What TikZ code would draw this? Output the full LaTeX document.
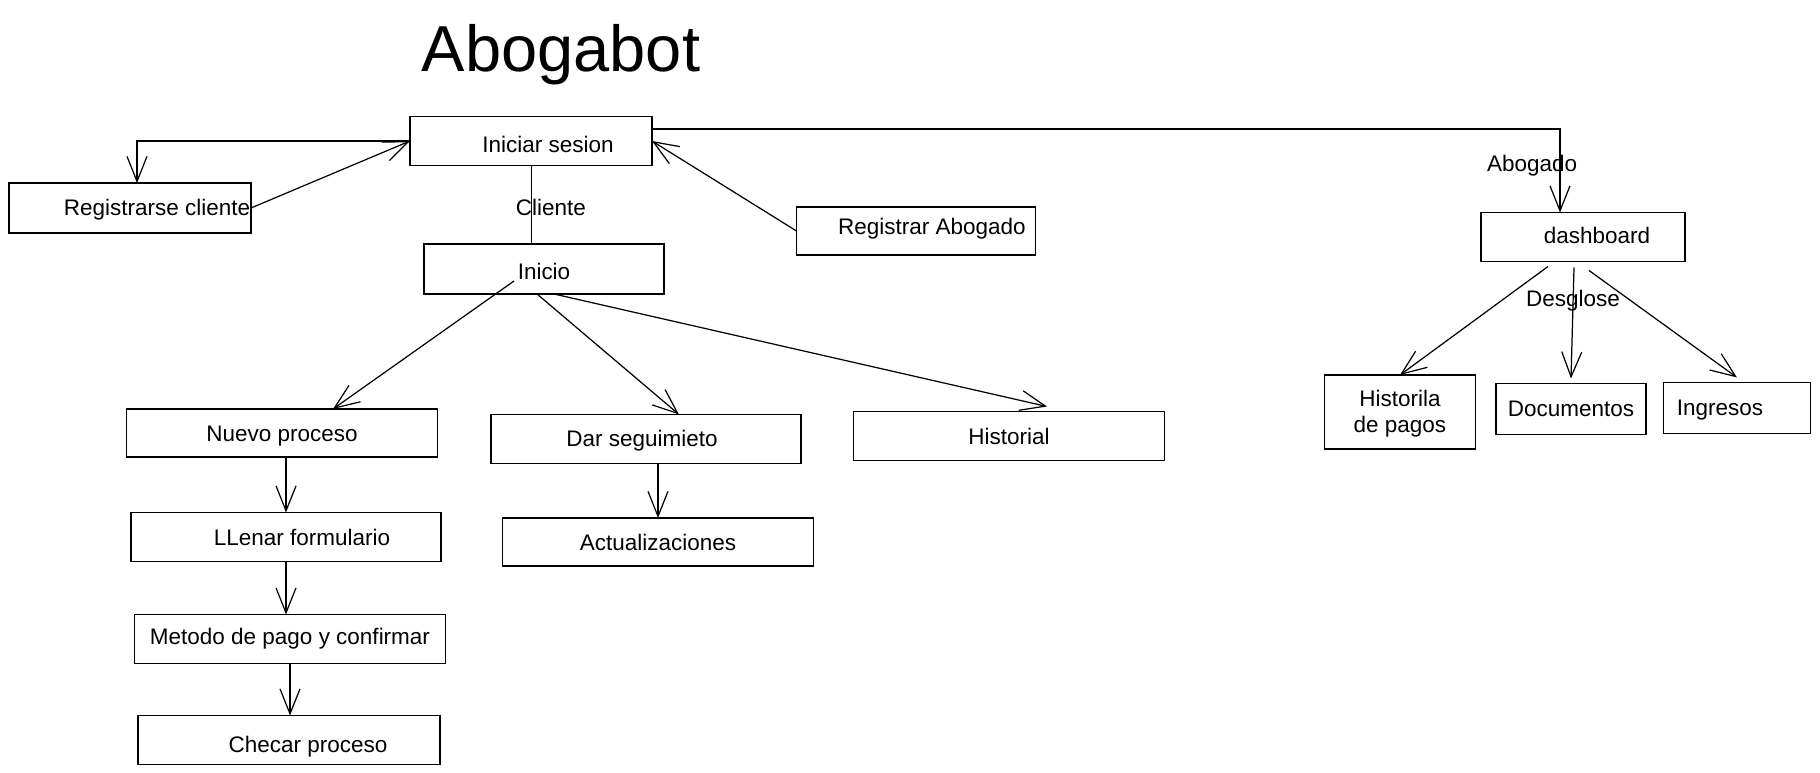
\documentclass[tikz,border=0pt]{standalone}
\usepackage{fontspec}
\setmainfont{Liberation Sans}
\usetikzlibrary{arrows.meta,positioning}

\begin{document}
\begin{tikzpicture}[x=0.02cm, y=-0.02cm,
    font=\fontsize{12.8}{15}\selectfont,
    caja/.style={draw, line width=0.9pt, inner sep=0pt, outer sep=0pt, minimum height=0.98cm},
    flecha/.style={-{Straight Barb[length=0.5cm,width=0.4cm]}, line width=0.7pt},
    etiqueta/.style={inner sep=1pt}]
  \useasboundingbox (0,0) rectangle (1820,773);

  % Titulo
  \node[font=\fontsize{37}{40}\selectfont, anchor=base] (titulo) at (561,72) {Abogabot};

  % Inicio de sesion y registros
  \node[caja, minimum width=4.84cm, label={[xshift=0.34cm,yshift=-0.06cm]center:Iniciar sesion}] (iniciar) at (531,141) {};
  \node[caja, minimum width=4.84cm, minimum height=1cm, label={[xshift=0.54cm,yshift=-0.03cm]center:Registrarse cliente}] (registro) at (130,208) {};
  \node[caja, minimum width=4.78cm, minimum height=0.96cm, label={[xshift=0.32cm,yshift=0.04cm]center:Registrar Abogado}] (regabog) at (916,231) {};

  % Rama del cliente
  \node[caja, minimum width=4.8cm, minimum height=1cm, label={[yshift=-0.04cm]center:Inicio}] (inicio) at (544,269) {};
  \node[caja, minimum width=6.22cm, minimum height=0.96cm, label={[yshift=-0.06cm]center:Nuevo proceso}] (nuevo) at (282,433) {};
  \node[caja, minimum width=6.2cm, label={[xshift=-0.08cm,yshift=-0.04cm]center:Dar seguimieto}] (dar) at (646,439) {};
  \node[caja, minimum width=6.22cm, label=center:Historial] (historial) at (1009,436) {};
  \node[caja, minimum width=6.2cm, label={[xshift=0.32cm]center:LLenar formulario}] (llenar) at (286,537) {};
  \node[caja, minimum width=6.22cm, minimum height=0.96cm, label=center:Actualizaciones] (act) at (658,542) {};
  \node[caja, minimum width=6.22cm, label=center:Metodo de pago y confirmar] (metodo) at (290,639) {};
  \node[caja, minimum width=6.04cm, label={[xshift=0.38cm,yshift=-0.14cm]center:Checar proceso}] (checar) at (289,740) {};

  % Rama del abogado
  \node[caja, minimum width=4.08cm, label={[xshift=0.28cm,yshift=0.04cm]center:dashboard}] (dash) at (1583,237) {};
  \node[caja, minimum width=3.02cm, minimum height=1.48cm, label={[align=center,yshift=-0.04cm]center:{Historila\\de pagos}}] (historila) at (1400,412) {};
  \node[caja, minimum width=3cm, minimum height=1.02cm, label=center:Documentos] (docs) at (1571,409) {};
  \node[caja, minimum width=2.94cm, minimum height=1.02cm, label={[xshift=-0.34cm,yshift=-0.04cm]center:Ingresos}] (ingresos) at (1737,408) {};

  % Flechas de registro
  \draw[flecha] (iniciar.west) -| ([xshift=0.14cm]registro.north);
  \draw[flecha] (registro.east) -- (iniciar.west);
  \draw[flecha] (regabog.west) -- (iniciar.east);

  % Cliente o abogado
  \draw (iniciar.south) -- node[etiqueta, xshift=0.4cm, yshift=-0.06cm] (cliente) {Cliente} (iniciar.south |- inicio.north);
  \draw[flecha] ([yshift=0.24cm]iniciar.east) -| node[etiqueta, pos=0.72, xshift=-0.56cm] (abogado) {Abogado} ([xshift=-0.46cm]dash.north);

  % Opciones del cliente
  \draw[flecha] ([xshift=-0.6cm,yshift=-0.24cm]inicio.center) -- ([xshift=1.02cm]nuevo.north);
  \draw[flecha] ([xshift=-0.14cm]inicio.south) -- ([xshift=0.66cm]dar.north);
  \draw[flecha] ([xshift=0.2cm]inicio.south) -- ([xshift=0.76cm,yshift=0.1cm]historial.north);
  \draw[flecha] (nuevo.south -| llenar.north) -- (llenar.north);
  \draw[flecha] (llenar.south) -- (llenar.south |- metodo.north);
  \draw[flecha] (metodo.south) -- (metodo.south |- checar.north);
  \draw[flecha] (dar.south -| act.north) -- (act.north);

  % Desglose del dashboard
  \draw[flecha] ([xshift=-0.7cm,yshift=-0.1cm]dash.south) -- (historila.north);
  \draw[flecha] ([xshift=-0.18cm,yshift=-0.12cm]dash.south) -- node[etiqueta, pos=0.3] (desglose) {Desglose} ([yshift=0.1cm]docs.north);
  \draw[flecha] ([xshift=0.12cm,yshift=-0.18cm]dash.south) -- ([yshift=0.1cm]ingresos.north);
\end{tikzpicture}
\end{document}
